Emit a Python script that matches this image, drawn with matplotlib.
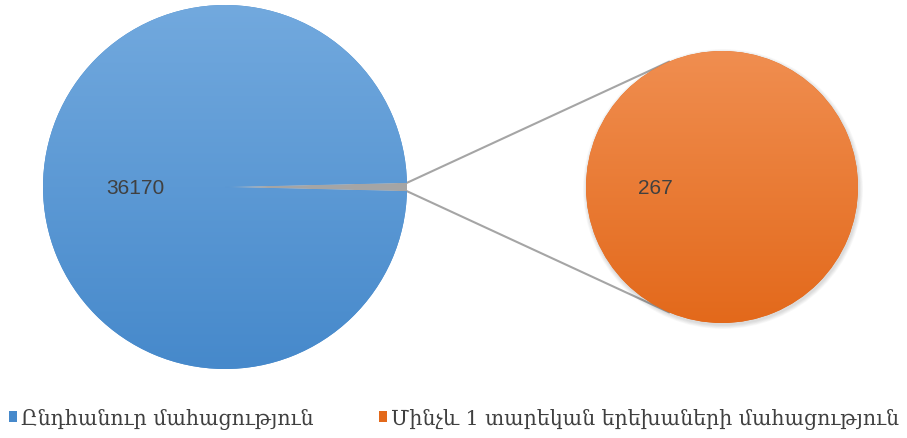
import numpy as np
import matplotlib
matplotlib.use("Agg")
import matplotlib.pyplot as plt
from matplotlib.patches import Patch

# data
main_values = [36170, 267]
sub_values = [267]
labels = ["Ընդհանուր մահացություն", "Մինչև 1 տարեկան երեխաների մահացություն"]
main_label = "36170"
sub_label = "267"

blue_top, blue_bot = "#72a9de", "#4689cb"
orange_top, orange_bot = "#f08e50", "#e3691b"
gray = "#a5a5a5"

W, H = 907, 439
fig = plt.figure(figsize=(W / 100, H / 100), dpi=100)
ax = fig.add_axes([0, 0, 1, 1])
ax.set_xlim(0, W)
ax.set_ylim(0, H)
ax.set_aspect("equal")
ax.axis("off")

c1, r1 = (225, H - 188), 182
c2, r2 = (722, H - 188), 136

frac = main_values[1] / sum(main_values)
half = frac * 180

wedges1, _ = ax.pie(main_values, center=c1, radius=r1, startangle=half,
                    colors=[blue_bot, gray], frame=True,
                    wedgeprops=dict(linewidth=0))
ax.set_xlim(0, W)
ax.set_ylim(0, H)

# soft shadow under the small pie
for k in range(6):
    ax.add_patch(plt.Circle((c2[0] + 1, c2[1] - 2), r2 + 4 - k * 0.7,
                            color="black", alpha=0.025, lw=0))
wedges2, _ = ax.pie(sub_values, center=c2, radius=r2, colors=[orange_bot],
                    frame=True, wedgeprops=dict(linewidth=0))
ax.set_xlim(0, W)
ax.set_ylim(0, H)
ax.axis("off")


def gradient(wedge, top, bot, cy, r):
    t = np.linspace(0, 1, 256)[:, None]
    ct = np.array(matplotlib.colors.to_rgb(top))
    cb = np.array(matplotlib.colors.to_rgb(bot))
    img = (1 - t)[..., None] * ct + t[..., None] * cb
    img = np.repeat(img, 2, axis=1)
    im = ax.imshow(img, extent=[0, W, cy - r, cy + r], origin="upper",
                   aspect="auto", zorder=wedge.get_zorder() + 0.1)
    im.set_clip_path(wedge)


gradient(wedges1[0], blue_top, blue_bot, c1[1], r1)
gradient(wedges2[0], orange_top, orange_bot, c2[1], r2)

# connector lines
a = np.radians(half)
p_up = (c1[0] + r1 * np.cos(a), c1[1] + r1 * np.sin(a))
p_dn = (c1[0] + r1 * np.cos(a), c1[1] - r1 * np.sin(a))
b = np.radians(113)
q_up = (c2[0] + r2 * np.cos(b), c2[1] + r2 * np.sin(b))
q_dn = (c2[0] + r2 * np.cos(b), c2[1] - r2 * np.sin(b))
ax.plot([p_up[0], q_up[0]], [p_up[1], q_up[1]], color=gray, lw=1.5, zorder=0)
ax.plot([p_dn[0], q_dn[0]], [p_dn[1], q_dn[1]], color=gray, lw=1.5, zorder=0)

ax.text(135, c1[1], main_label, fontsize=15, color="#404040",
        family="Liberation Sans", ha="center", va="center", zorder=5)
ax.text(655, c2[1], sub_label, fontsize=15, color="#404040",
        family="Liberation Sans", ha="center", va="center", zorder=5)

handles = [Patch(facecolor=blue_bot), Patch(facecolor=orange_bot)]
fig.legend(handles, labels, loc="lower left", bbox_to_anchor=(-0.0105, -0.021),
           ncol=2, frameon=False, handlelength=0.4, handleheight=0.4,
           handletextpad=0.2, columnspacing=3.16,
           prop=dict(family="DejaVu Serif", size=14.8),
           labelcolor="#404040")

fig.savefig("out.png", dpi=100)
